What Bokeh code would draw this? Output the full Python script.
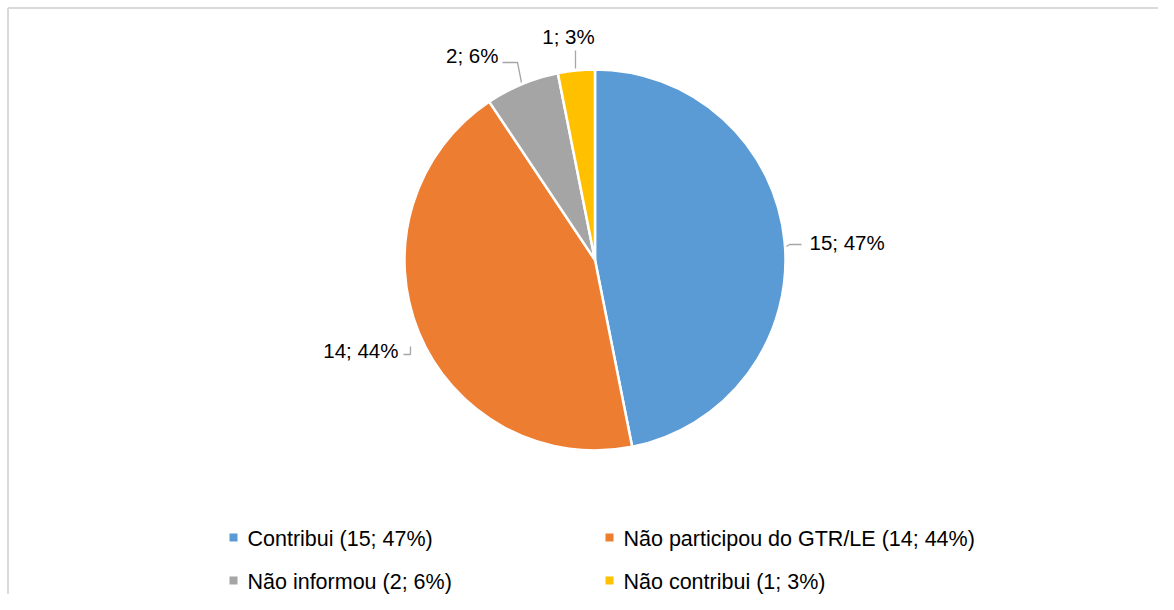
import math
from bokeh.plotting import figure
from bokeh.models import Range1d, ColumnDataSource
from bokeh.core.properties import value
from bokeh.embed import file_html
from bokeh.resources import INLINE

# ---- data ----
categories = ["Contribui", "Não participou do GTR/LE", "Não informou", "Não contribui"]
counts = [15, 14, 2, 1]
colors = ["#5B9BD5", "#ED7D31", "#A5A5A5", "#FFC000"]

# ---- layout ----
W, H = 1158, 594
FONT = "Liberation Sans"
FS = "20.5px"
FS_LEG = "21.5px"

def sy(y):  # image y (top-down) -> data y
    return H - y

def sx(x):
    return x

cx, cy, R = sx(594.5), sy(259.5), 190.5

total = sum(counts)
pcts = [round(100 * c / total) for c in counts]
starts, ends = [], []
acc = 0
for c in counts:
    starts.append(math.pi / 2 - 2 * math.pi * acc / total)
    acc += c
    ends.append(math.pi / 2 - 2 * math.pi * acc / total)

p = figure(width=W, height=H, output_backend="svg", toolbar_location=None,
           x_range=Range1d(0, W), y_range=Range1d(0, H),
           min_border=0, min_border_left=0, min_border_right=0,
           min_border_top=0, min_border_bottom=0)
p.axis.visible = False
p.grid.visible = False
p.outline_line_color = None
p.background_fill_color = "white"
p.border_fill_color = "white"

# chart-area border (left and top edges visible in the reference)
p.multi_line(xs=[[7.5, 7.5], [7.5, W + 20]], ys=[[sy(7.5), sy(H + 20)], [sy(7.5), sy(7.5)]],
             line_color="#D9D9D9", line_width=2)

src = ColumnDataSource(dict(start=starts, end=ends, color=colors))
p.wedge(x=cx, y=cy, radius=R, start_angle="start", end_angle="end",
        direction="clock", fill_color="color", line_color="white",
        line_width=2.5, source=src)

# data labels (positions are layout choices, per slice)
label_pos = [(809, 242, "left"), (398, 350, "right"), (498, 55, "right"), (568, 36, "center")]
leaders = [
    [(786, 246), (789, 244), (801, 244)],
    [(403, 354), (410, 354), (410, 346)],
    [(502, 62), (517, 62), (521, 82)],
    [(575, 50), (575, 68)],
]
lt = dict(x=[], y=[], text=[], align=[])
for (x, y, a), c, pc in zip(label_pos, counts, pcts):
    lt["x"].append(sx(x)); lt["y"].append(sy(y))
    lt["text"].append(f"{c}; {pc}%"); lt["align"].append(a)
p.text(x="x", y="y", text="text", text_align="align", text_baseline="middle",
       text_font=value(FONT), text_font_size=FS, text_color="#000000",
       source=ColumnDataSource(lt))
p.multi_line(xs=[[sx(px) for px, _ in seg] for seg in leaders],
             ys=[[sy(py) for _, py in seg] for seg in leaders],
             line_color="#A6A6A6", line_width=1.3)

# legend (two columns, two rows)
leg_marker = [(233, 537), (609, 537), (233, 580), (609, 580)]
leg_text_x = [247, 623, 247, 623]
p.scatter(x=[sx(x) for x, _ in leg_marker], y=[sy(y) for _, y in leg_marker],
          marker="square", size=8, fill_color=colors, line_color=None)
p.text(x=[sx(x) for x in leg_text_x], y=[sy(y + 1) for _, y in leg_marker],
       text=[f"{cat} ({c}; {pc}%)" for cat, c, pc in zip(categories, counts, pcts)],
       text_align="left", text_baseline="middle",
       text_font=value(FONT), text_font_size=FS_LEG, text_color="#000000")

open("out.html", "w").write(file_html(p, INLINE))
